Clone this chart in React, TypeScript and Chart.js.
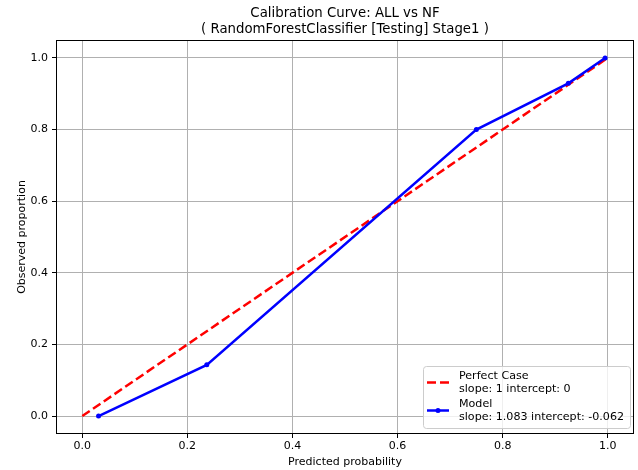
import React, { useEffect, useRef } from 'react';
import { Chart, registerables } from 'chart.js';

Chart.register(...registerables);

// ---- data ----
const perfectX = [0.0, 1.0];
const perfectY = [0.0, 1.0];
const modelX = [0.031, 0.237, 0.75, 0.925, 0.995];
const modelY = [0.0, 0.143, 0.8, 0.929, 1.0];
const tickValues = [0.0, 0.2, 0.4, 0.6, 0.8, 1.0];
const titleLines = ['Calibration Curve: ALL vs NF', '( RandomForestClassifier [Testing] Stage1 )'];
const xLabel = 'Predicted probability';
const yLabel = 'Observed proportion';
const legendNames = ['Perfect Case', 'Model'];
const legendSubs = ['slope: 1 intercept: 0', 'slope: 1.083 intercept: -0.062'];

const FONT = 'DejaVu Sans, Verdana, sans-serif';

const decorPlugin = {
  id: 'decor',
  afterDraw(chart: any) {
    const { ctx, chartArea: a } = chart;
    ctx.save();
    // frame
    ctx.strokeStyle = '#000';
    ctx.lineWidth = 1;
    ctx.strokeRect(a.left + 0.5, a.top + 0.5, a.right - a.left - 1, a.bottom - a.top - 1);

    // title
    ctx.fillStyle = '#000';
    ctx.textAlign = 'center';
    ctx.textBaseline = 'middle';
    ctx.font = `13.3px ${FONT}`;
    const cx = (a.left + a.right) / 2;
    ctx.fillText(titleLines[0], cx, 14);
    ctx.fillText(titleLines[1], cx, 30);

    // axis titles
    ctx.font = `11px ${FONT}`;
    ctx.fillText(xLabel, cx, 462);
    ctx.save();
    ctx.translate(22, (a.top + a.bottom) / 2);
    ctx.rotate(-Math.PI / 2);
    ctx.fillText(yLabel, 0, 0);
    ctx.restore();

    // legend
    const lx = 423, ly = 366, lw = 207, lh = 62;
    ctx.beginPath();
    (ctx as any).roundRect(lx + 0.5, ly + 0.5, lw, lh, 3);
    ctx.fillStyle = 'rgba(255,255,255,0.8)';
    ctx.fill();
    ctx.strokeStyle = '#cccccc';
    ctx.lineWidth = 1;
    ctx.stroke();

    const colors = ['#ff0000', '#0000ff'];
    const rows = [[376, 389], [404, 417]];
    for (let i = 0; i < 2; i++) {
      const hy = (rows[i][0] + rows[i][1]) / 2;
      ctx.beginPath();
      ctx.strokeStyle = colors[i];
      ctx.lineWidth = 2.5;
      ctx.setLineDash(i === 0 ? [9, 4] : []);
      ctx.moveTo(427, hy);
      ctx.lineTo(449, hy);
      ctx.stroke();
      ctx.setLineDash([]);
      if (i === 1) {
        ctx.beginPath();
        ctx.fillStyle = colors[i];
        ctx.arc(438, hy, 2.5, 0, Math.PI * 2);
        ctx.fill();
      }
      ctx.fillStyle = '#000';
      ctx.textAlign = 'left';
      ctx.textBaseline = 'middle';
      ctx.font = `11.1px ${FONT}`;
      ctx.fillText(legendNames[i], 459, rows[i][0]);
      ctx.fillText(legendSubs[i], 459, rows[i][1]);
    }
    ctx.restore();
  },
};

export default function App() {
  const ref = useRef<HTMLCanvasElement>(null);
  useEffect(() => {
    if (!ref.current) return;
    const tickOpts = {
      color: '#000',
      font: { family: FONT, size: 11 },
      autoSkip: false,
      maxRotation: 0,
      callback: (v: any) => Number(v).toFixed(1),
    };
    const gridOpts = {
      color: '#b0b0b0',
      lineWidth: 1,
      drawTicks: true,
      tickLength: 4,
      tickColor: '#000',
    };
    const chart = new Chart(ref.current, {
      type: 'line',
      data: {
        datasets: [
          {
            label: legendNames[1],
            data: modelX.map((x, i) => ({ x, y: modelY[i] })),
            borderColor: '#0000ff',
            backgroundColor: '#0000ff',
            borderWidth: 2.5,
            pointRadius: 2.5,
            pointBorderWidth: 0,
            pointBackgroundColor: '#0000ff',
            fill: false,
            tension: 0,
            order: 0,
          },
          {
            label: legendNames[0],
            data: perfectX.map((x, i) => ({ x, y: perfectY[i] })),
            borderColor: '#ff0000',
            backgroundColor: '#ff0000',
            borderWidth: 2.5,
            borderDash: [9, 4],
            pointRadius: 0,
            fill: false,
            tension: 0,
            order: 1,
          },
        ],
      },
      options: {
        animation: false,
        responsive: false,
        maintainAspectRatio: false,
        layout: { padding: { top: 40, right: 3, left: 0, bottom: 0 } },
        plugins: {
          legend: { display: false },
          title: { display: false },
          tooltip: { enabled: false },
        },
        scales: {
          x: {
            type: 'linear',
            min: -0.05,
            max: 1.05,
            afterBuildTicks: (s: any) => {
              s.ticks = tickValues.map((v) => ({ value: v }));
            },
            afterFit: (s: any) => {
              s.height = 36;
            },
            grid: gridOpts,
            border: { display: false },
            ticks: { ...tickOpts, padding: 2 },
          },
          y: {
            type: 'linear',
            min: -0.05,
            max: 1.05,
            afterBuildTicks: (s: any) => {
              s.ticks = tickValues.map((v) => ({ value: v }));
            },
            afterFit: (s: any) => {
              s.width = 56;
            },
            grid: gridOpts,
            border: { display: false },
            ticks: { ...tickOpts, padding: 4 },
          },
        },
      } as any,
      plugins: [decorPlugin],
    });
    return () => chart.destroy();
  }, []);
  return (
    <div style={{ position: 'fixed', left: 0, top: 0, width: 638, height: 470, background: '#fff' }}>
      <canvas ref={ref} width={638} height={470} style={{ width: 638, height: 470, display: 'block' }} />
    </div>
  );
}
